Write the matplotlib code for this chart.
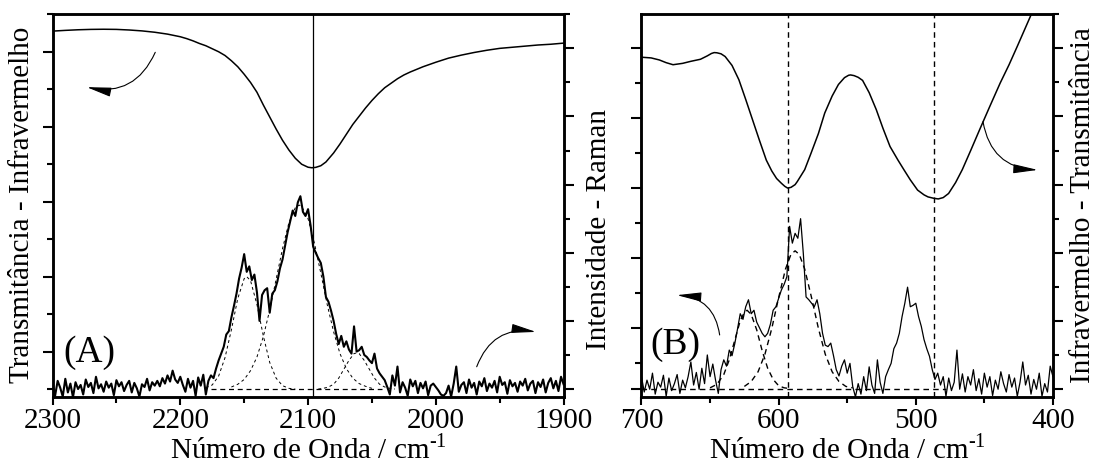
import numpy as np
import matplotlib
matplotlib.use("Agg")
import matplotlib.pyplot as plt
from matplotlib.ticker import MultipleLocator, FixedLocator

plt.rcParams["font.family"] = ["Liberation Serif", "DejaVu Serif"]
plt.rcParams["mathtext.fontset"] = "custom"
plt.rcParams["mathtext.rm"] = "Liberation Serif"

# ── Panel A: IR transmittance (left axis, a.u.) ───────────────────────────────
ir_a_x = [2300, 2290, 2280, 2270, 2260, 2250, 2240, 2230, 2220, 2210, 2200,
          2195, 2190, 2185, 2180, 2175, 2170, 2165, 2160, 2155, 2150, 2145,
          2140, 2135, 2130, 2125, 2120, 2115, 2110, 2105, 2100, 2097, 2094,
          2090, 2086, 2080, 2075, 2070, 2065, 2060, 2055, 2050, 2045, 2040,
          2035, 2030, 2025, 2020, 2010, 2000, 1990, 1980, 1970, 1960, 1950,
          1940, 1930, 1920, 1910, 1900]
ir_a_y = [5.275, 5.285, 5.293, 5.298, 5.300, 5.298, 5.29, 5.278, 5.26, 5.235,
          5.20, 5.175, 5.145, 5.11, 5.08, 5.04, 5.00, 4.95, 4.88, 4.80, 4.70,
          4.59, 4.46, 4.29, 4.13, 3.97, 3.82, 3.69, 3.58, 3.50, 3.46, 3.453,
          3.458, 3.48, 3.53, 3.65, 3.77, 3.90, 4.03, 4.14, 4.25, 4.35, 4.44,
          4.52, 4.58, 4.64, 4.69, 4.73, 4.80, 4.86, 4.915, 4.955, 4.99, 5.02,
          5.045, 5.06, 5.075, 5.09, 5.10, 5.115]
ir_a_line = 2096

# ── Panel A: Raman spectrum (right axis, a.u.), 2 cm-1 steps 2300 -> 1900 ─────
raman_a_x = np.arange(2300, 1899, -2)
raman_a_y = [
    0.05, -0.10, 0.12, 0.02, -0.11, 0.15, -0.05, 0.08, -0.12, 0.10, 0.00,
    0.06, -0.08, 0.14, 0.03, 0.09, -0.06, 0.18, 0.01, 0.07, -0.04,
    0.11, 0.02, 0.08, -0.09, 0.13, 0.04, 0.10, -0.03, 0.06, 0.12,
    -0.05, 0.09, 0.01, -0.11, 0.07, 0.03, 0.15, -0.02, 0.10, 0.05,
    0.12, 0.04, 0.16, 0.08, 0.20, 0.11, 0.27, 0.14, 0.09, 0.18,
    0.06, -0.04, 0.15, 0.02, 0.12, -0.10, 0.17, 0.05, 0.21, -0.08,
    0.12, 0.20, 0.16, 0.30, 0.42, 0.52, 0.62, 0.80, 0.85, 1.05,
    1.22, 1.40, 1.62, 1.78, 1.98, 1.72, 1.80, 1.60, 1.68, 1.42,
    1.00, 1.38, 1.45, 1.48, 1.12, 1.40, 1.45, 1.58, 1.77, 1.90,
    2.10, 2.30, 2.46, 2.62, 2.54, 2.74, 2.83, 2.60, 2.54, 2.64,
    2.40, 2.09, 2.00, 1.92, 1.85, 1.65, 1.35, 1.28, 1.15, 1.00,
    0.81, 0.66, 0.78, 0.62, 0.70, 0.58, 0.52, 0.92, 0.55, 0.57,
    0.62, 0.50, 0.47, 0.42, 0.38, 0.52, 0.30, 0.23, 0.18, 0.13,
    0.03, -0.08, 0.20, 0.05, 0.33, -0.05, 0.10, 0.02, -0.10, 0.14,
    0.04, 0.12, -0.06, 0.09, 0.01, 0.11, -0.09, 0.05, 0.08, 0.03,
    -0.02, -0.08, -0.10, -0.06, 0.05, -0.11, 0.08, 0.33, -0.04, 0.06,
    0.10, -0.06, 0.14, 0.02, 0.09, -0.08, 0.11, 0.04, 0.16, -0.03,
    0.08, 0.02, 0.12, -0.05, 0.18, 0.06, 0.10, -0.07, 0.13, 0.04,
    0.09, -0.04, 0.11, 0.05, 0.15, -0.02, 0.08, 0.12, -0.06, 0.10,
    0.03, 0.14, -0.05, 0.09, 0.16, 0.01, 0.12, -0.03, 0.18, 0.07,
]

# fitted components (dashed)
fit_a1_x = [2180, 2175, 2170, 2165, 2160, 2155, 2150, 2148, 2145, 2140, 2135,
            2130, 2125, 2120, 2115, 2110]
fit_a1_y = [0.02, 0.06, 0.19, 0.46, 0.87, 1.33, 1.62, 1.65, 1.59, 1.24, 0.78,
            0.39, 0.16, 0.05, 0.01, 0.00]
fit_a2_x = [2160, 2155, 2150, 2145, 2140, 2135, 2130, 2125, 2120, 2115, 2110,
            2107, 2105, 2100, 2095, 2090, 2085, 2080, 2075, 2070, 2065, 2060,
            2055, 2050]
fit_a2_y = [0.03, 0.07, 0.14, 0.27, 0.47, 0.77, 1.16, 1.61, 2.06, 2.44, 2.66,
            2.70, 2.68, 2.50, 2.14, 1.70, 1.24, 0.84, 0.52, 0.30, 0.16, 0.08,
            0.04, 0.01]
fit_a3_x = [2092, 2088, 2084, 2080, 2076, 2072, 2068, 2064, 2062, 2060, 2056,
            2052, 2048, 2044, 2040, 2036, 2032]
fit_a3_y = [0.00, 0.01, 0.03, 0.07, 0.16, 0.29, 0.42, 0.52, 0.53, 0.52, 0.42,
            0.29, 0.16, 0.07, 0.03, 0.01, 0.00]
base_a_x = [2176, 2042]
base_a_y = [0.0, 0.0]

# ── Panel B: IR transmittance (right axis, a.u.) ──────────────────────────────
ir_b_x = [700, 693, 687, 682, 677, 670, 664, 657, 652, 649, 647, 645, 642,
          639, 634, 629, 624, 619, 614, 609, 605, 601.5, 598, 595.5, 593.5,
          591, 588, 586.4, 581, 576.4, 571, 566.4, 561, 556.4, 552, 549,
          547.6, 545, 542, 538.8, 534, 528.8, 524, 518.8, 513, 508.7, 504,
          498.7, 494, 491.1, 487, 483.6, 480, 476.1, 471, 466.1, 460, 453.6,
          446, 438.5, 432, 426, 416, 410]
ir_b_y = [4.87, 4.86, 4.83, 4.79, 4.76, 4.78, 4.81, 4.84, 4.89, 4.925, 4.938,
          4.935, 4.92, 4.88, 4.75, 4.54, 4.25, 3.95, 3.65, 3.36, 3.20, 3.09,
          3.02, 2.975, 2.95, 2.96, 3.00, 3.045, 3.22, 3.46, 3.75, 4.05, 4.30,
          4.47, 4.57, 4.605, 4.61, 4.60, 4.575, 4.53, 4.35, 4.10, 3.83, 3.56,
          3.36, 3.22, 3.07, 2.92, 2.85, 2.82, 2.80, 2.79, 2.81, 2.87, 3.03,
          3.22, 3.50, 3.80, 4.15, 4.49, 4.76, 5.03, 5.49, 5.75]
ir_b_lines = [593, 487]

# ── Panel B: Raman spectrum (left axis, a.u.), 2 cm-1 steps 700 -> 400 ────────
raman_b_x = np.arange(700, 399, -2)
raman_b_y = [
    0.30, 0.08, 0.25, 0.12, 0.35, 0.05, 0.22, 0.15, 0.32, 0.02,
    0.28, 0.10, 0.20, 0.33, 0.06, 0.25, 0.14, 0.30, 0.51, 0.18,
    0.36, 0.12, 0.42, 0.20, 0.61, 0.30, 0.48, 0.25, 0.06, 0.40,
    0.54, 0.45, 0.68, 0.60, 0.77, 0.98, 1.20, 1.12, 1.30, 1.40,
    1.20, 1.25, 1.08, 1.00, 0.92, 0.87, 0.92, 1.05, 1.25, 1.30,
    1.42, 1.54, 1.62, 1.73, 2.45, 2.21, 2.35, 2.28, 2.56, 2.06,
    1.44, 1.40, 1.35, 1.30, 1.40, 1.20, 0.92, 0.75, 0.73, 0.78,
    0.60, 0.40, 0.31, 0.45, 0.54, 0.35, 0.49, 0.16, 0.01, 0.20,
    0.05, 0.30, 0.10, 0.44, 0.18, 0.06, 0.54, 0.22, 0.06, 0.30,
    0.40, 0.49, 0.70, 0.78, 0.92, 1.16, 1.35, 1.58, 1.30, 1.32,
    1.35, 1.16, 1.02, 0.83, 0.70, 0.59, 0.40, 0.26, 0.35, 0.18,
    0.30, 0.02, 0.28, 0.10, 0.22, 0.68, 0.12, 0.34, 0.08, 0.30,
    0.18, 0.40, 0.10, 0.27, 0.05, 0.35, 0.15, 0.30, 0.03, 0.25,
    0.12, 0.37, 0.20, 0.08, 0.33, 0.15, 0.28, 0.02, 0.22, 0.51,
    0.18, 0.32, 0.05, 0.26, 0.12, 0.35, 0.02, 0.20, 0.08, 0.45,
    0.30,
]
fit_b1_x = [650, 645, 640, 636, 632, 628, 625, 623, 620, 616, 612, 608, 604,
            600, 596, 592]
fit_b1_y = [0.14, 0.19, 0.33, 0.54, 0.82, 1.10, 1.22, 1.25, 1.19, 0.97, 0.67,
            0.42, 0.26, 0.17, 0.14, 0.13]
fit_b2_x = [625, 620, 615, 610, 605, 600, 595, 591, 588, 585, 581, 576, 571,
            566, 561, 556, 551, 546]
fit_b2_y = [0.16, 0.23, 0.37, 0.62, 0.99, 1.43, 1.84, 2.05, 2.10, 2.05, 1.84,
            1.43, 0.99, 0.62, 0.37, 0.23, 0.16, 0.14]
base_b_x = [700, 478]
base_b_y = [0.123, 0.123]

FS = 21
SPINE_W = 1.8
XLABEL = "Número de Onda / cm$^{\u20101}$"
ARROW = "-|>,head_length=0.75,head_width=0.14"


def style_x(ax):
    ax.xaxis.set_major_locator(MultipleLocator(100))
    ax.xaxis.set_minor_locator(MultipleLocator(50))
    ax.tick_params(axis="x", which="major", direction="out", length=6,
                   width=1.5, labelsize=FS, pad=2)
    ax.tick_params(axis="x", which="minor", direction="out", length=4,
                   width=1.5)
    for s in ax.spines.values():
        s.set_linewidth(SPINE_W)


def style_y(ax):
    kw = {"labelleft": False, "labelright": False}
    ax.tick_params(axis="y", which="major", direction="out", length=7,
                   width=1.5, **kw)
    ax.tick_params(axis="y", which="minor", direction="out", length=4,
                   width=1.5, **kw)
    for s in ax.spines.values():
        s.set_linewidth(SPINE_W)


def curved_arrow(ax, start, end, rad):
    ax.annotate("", xy=end, xytext=start, xycoords="axes fraction",
                arrowprops=dict(arrowstyle=ARROW,
                                connectionstyle=f"arc3,rad={rad}", lw=0.8,
                                color="k", mutation_scale=20,
                                shrinkA=0, shrinkB=0))


fig = plt.figure(figsize=(10.99, 4.69), dpi=100)

# ── (A) ───────────────────────────────────────────────────────────────────────
axA = fig.add_axes([0.0478, 0.1535, 0.4650, 0.8166])
axA.plot(ir_a_x, ir_a_y, color="k", lw=1.1)
axA.axvline(ir_a_line, color="k", lw=0.9)
axA.set_xlim(2300, 1900)
axA.set_ylim(0.396, 5.503)
axA.yaxis.set_major_locator(MultipleLocator(1))
axA.yaxis.set_minor_locator(MultipleLocator(0.5))
style_x(axA)
style_y(axA)
axA.set_xlabel(XLABEL, fontsize=FS, labelpad=0)

axA2 = axA.twinx()
axA2.plot(raman_a_x, raman_a_y, color="k", lw=1.5)
for fx, fy in [(fit_a1_x, fit_a1_y), (fit_a2_x, fit_a2_y),
               (fit_a3_x, fit_a3_y)]:
    axA2.plot(fx, fy, color="k", lw=0.7, dashes=(3, 3))
axA2.plot(base_a_x, base_a_y, color="k", lw=0.9, dashes=(4, 3))
axA2.set_ylim(-0.117, 5.504)
axA2.yaxis.set_major_locator(MultipleLocator(1))
axA2.yaxis.set_minor_locator(MultipleLocator(0.5))
style_y(axA2)

axA.text(0.022, 0.092, "(A)", transform=axA.transAxes, fontsize=27,
         ha="left", va="baseline")
curved_arrow(axA, (0.201, 0.900), (0.067, 0.809), -0.4)
curved_arrow(axA, (0.830, 0.079), (0.946, 0.170), -0.4)

# ── (B) ───────────────────────────────────────────────────────────────────────
axB = fig.add_axes([0.5837, 0.1535, 0.3744, 0.8166])
axB.plot(raman_b_x, raman_b_y, color="k", lw=0.9)
for fx, fy in [(fit_b1_x, fit_b1_y), (fit_b2_x, fit_b2_y)]:
    axB.plot(fx, fy, color="k", lw=1.0, dashes=(4, 3))
axB.plot(base_b_x, base_b_y, color="k", lw=1.0, dashes=(4, 3))
for xv in ir_b_lines:
    axB.axvline(xv, color="k", lw=1.0, dashes=(4, 3))
axB.set_xlim(700, 400)
axB.set_ylim(0.0086, 5.488)
axB.yaxis.set_major_locator(FixedLocator([0.123, 1, 2, 3, 4, 5]))
axB.yaxis.set_minor_locator(FixedLocator([0.5, 1.5, 2.5, 3.5, 4.5]))
style_x(axB)
style_y(axB)
axB.set_xlabel(XLABEL, fontsize=FS, labelpad=0)

axB2 = axB.twinx()
axB2.plot(ir_b_x, ir_b_y, color="k", lw=1.1)
axB2.set_ylim(-0.117, 5.504)
axB2.yaxis.set_major_locator(MultipleLocator(1))
axB2.yaxis.set_minor_locator(MultipleLocator(0.5))
style_y(axB2)

axB.text(0.021, 0.112, "(B)", transform=axB.transAxes, fontsize=27,
         ha="left", va="baseline")
curved_arrow(axB, (0.190, 0.162), (0.086, 0.266), 0.4)
curved_arrow(axB, (0.830, 0.719), (0.963, 0.593), 0.4)

# axis titles
fig.text(0.020, 0.563, "Transmitância - Infravermelho", rotation=90,
         fontsize=FS, ha="center", va="center")
fig.text(0.545, 0.510, "Intensidade - Raman", rotation=90,
         fontsize=FS, ha="center", va="center")
fig.text(0.9855, 0.563, "Infravermelho - Transmitância", rotation=90,
         fontsize=FS, ha="center", va="center")

fig.savefig("out.png", dpi=100)
